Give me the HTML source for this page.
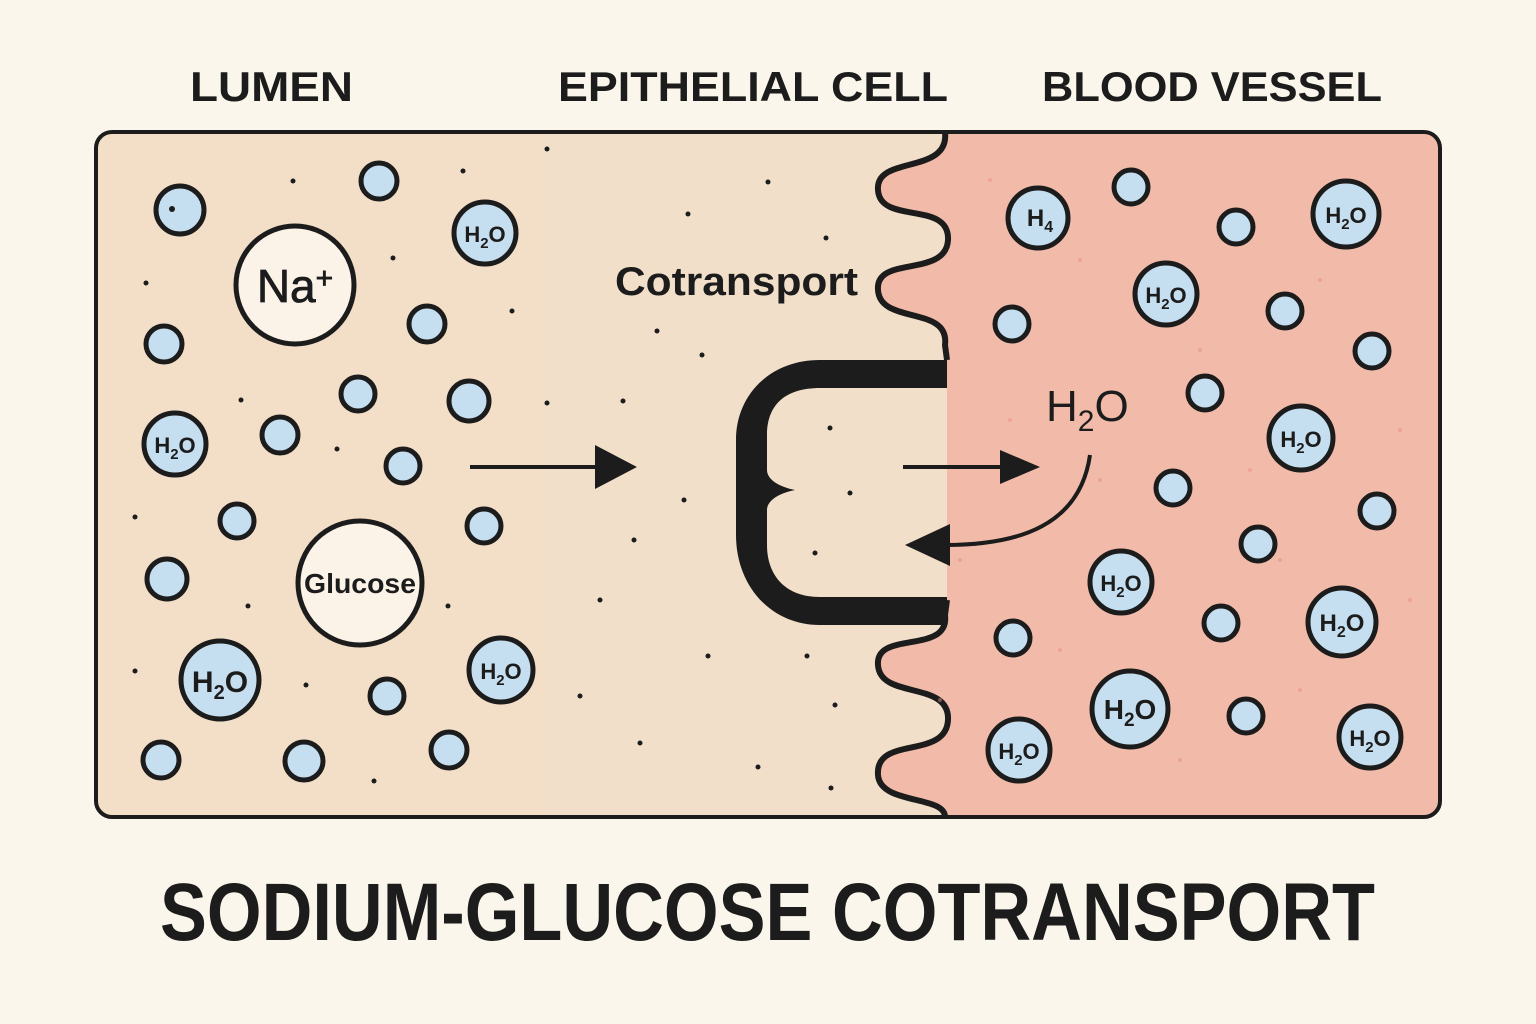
<!DOCTYPE html>
<html><head><meta charset="utf-8"><style>html,body{margin:0;padding:0;background:#fbf6ec}svg{display:block}</style></head><body>
<svg width="1536" height="1024" viewBox="0 0 1536 1024" xmlns="http://www.w3.org/2000/svg" font-family="Liberation Sans, sans-serif">
<rect width="1536" height="1024" fill="#fbf6ec"/>
<g font-weight="bold" fill="#1c1c1c" font-size="42">
<text x="190" y="101" textLength="163" lengthAdjust="spacingAndGlyphs">LUMEN</text>
<text x="558" y="101" textLength="390" lengthAdjust="spacingAndGlyphs">EPITHELIAL CELL</text>
<text x="1042" y="101" textLength="340" lengthAdjust="spacingAndGlyphs">BLOOD VESSEL</text>
<text x="160" y="940" font-size="82" textLength="1215" lengthAdjust="spacingAndGlyphs">SODIUM-GLUCOSE COTRANSPORT</text>
</g>
<defs><clipPath id="bx"><rect x="96" y="132" width="1344" height="685" rx="16"/></clipPath></defs>
<g clip-path="url(#bx)">
<rect x="96" y="132" width="460" height="685" fill="#f3dfc7"/>
<rect x="548" y="132" width="420" height="685" fill="#f2dfca"/>
<path d="M945 132 C950 175 875 155 878 190 C880 225 950 200 948 240 C946 278 875 255 878 290 C880 325 950 305 945 345 L947 360 L947 600 L945 615 C950 655 875 630 878 665 C880 700 950 680 948 720 C946 760 875 735 878 775 C880 805 945 795 945 817 L1445 817 L1445 132 Z" fill="#f2baa9"/>
<path d="M945 132 C950 175 875 155 878 190 C880 225 950 200 948 240 C946 278 875 255 878 290 C880 325 950 305 945 345 L947 360 M947 600 L945 615 C950 655 875 630 878 665 C880 700 950 680 948 720 C946 760 875 735 878 775 C880 805 945 795 945 817" fill="none" stroke="#1c1c1c" stroke-width="6"/>
</g>
<rect x="96" y="132" width="1344" height="685" rx="16" fill="none" stroke="#1c1c1c" stroke-width="4"/>
<g fill="#e8907c" opacity="0.5">
<circle cx="990" cy="180" r="2"/><circle cx="1080" cy="260" r="2"/><circle cx="1200" cy="350" r="2"/><circle cx="1320" cy="280" r="2"/><circle cx="1010" cy="420" r="2"/><circle cx="1250" cy="470" r="2"/><circle cx="1400" cy="430" r="2"/><circle cx="1060" cy="650" r="2"/><circle cx="1180" cy="760" r="2"/><circle cx="1300" cy="690" r="2"/><circle cx="960" cy="560" r="2"/><circle cx="1410" cy="600" r="2"/><circle cx="1100" cy="480" r="2"/><circle cx="1280" cy="560" r="2"/><circle cx="940" cy="700" r="2"/>
</g>
<g fill="#1c1c1c">
<circle cx="293" cy="181" r="2.5"/><circle cx="463" cy="171" r="2.5"/><circle cx="393" cy="258" r="2.5"/><circle cx="146" cy="283" r="2.5"/><circle cx="512" cy="311" r="2.5"/><circle cx="241" cy="400" r="2.5"/><circle cx="547" cy="403" r="2.5"/><circle cx="135" cy="517" r="2.5"/><circle cx="337" cy="449" r="2.5"/><circle cx="248" cy="606" r="2.5"/><circle cx="448" cy="606" r="2.5"/><circle cx="135" cy="671" r="2.5"/><circle cx="306" cy="685" r="2.5"/><circle cx="374" cy="781" r="2.5"/>
<circle cx="547" cy="149" r="2.5"/><circle cx="768" cy="182" r="2.5"/><circle cx="688" cy="214" r="2.5"/><circle cx="826" cy="238" r="2.5"/><circle cx="657" cy="331" r="2.5"/><circle cx="623" cy="401" r="2.5"/><circle cx="702" cy="355" r="2.5"/><circle cx="830" cy="428" r="2.5"/><circle cx="850" cy="493" r="2.5"/><circle cx="684" cy="500" r="2.5"/><circle cx="634" cy="540" r="2.5"/><circle cx="815" cy="553" r="2.5"/><circle cx="708" cy="656" r="2.5"/><circle cx="807" cy="656" r="2.5"/><circle cx="580" cy="696" r="2.5"/><circle cx="835" cy="705" r="2.5"/><circle cx="758" cy="767" r="2.5"/><circle cx="831" cy="788" r="2.5"/><circle cx="640" cy="743" r="2.5"/><circle cx="600" cy="600" r="2.5"/>
</g>
<text x="615" y="295" font-size="40" font-weight="bold" fill="#1c1c1c" textLength="243" lengthAdjust="spacingAndGlyphs">Cotransport</text>
<path d="M947 360 L820 360 C770 360 736 395 736 440 L736 535 C736 585 770 625 820 625 L947 625 L947 597 L820 597 C785 597 767 575 767 545 L767 510 C767 500 780 493 795 490 C780 487 767 480 767 470 L767 435 C767 405 785 388 820 388 L947 388 Z" fill="#1c1c1c"/>
<g stroke="#1c1c1c" stroke-width="4" fill="none">
<line x1="470" y1="467" x2="600" y2="467"/>
<line x1="903" y1="467" x2="1005" y2="467"/>
<path d="M1090 455 C1080 525 1020 545 945 545"/>
</g>
<g fill="#1c1c1c">
<polygon points="595,445 637,467 595,489"/>
<polygon points="1000,450 1040,467 1000,484"/>
<polygon points="950,524 905,545 950,566"/>
</g>
<text x="1046" y="421" font-size="44" fill="#1c1c1c">H<tspan font-size="30" dy="10">2</tspan><tspan dy="-10">O</tspan></text>
<g stroke="#1c1c1c" stroke-width="5" fill="#c6dff0">
<circle cx="180" cy="210" r="24"/><circle cx="379" cy="181" r="18"/><circle cx="485" cy="233" r="31"/><circle cx="164" cy="344" r="18"/><circle cx="427" cy="324" r="18"/><circle cx="358" cy="394" r="17"/><circle cx="469" cy="401" r="20"/><circle cx="175" cy="444" r="31"/><circle cx="280" cy="435" r="18"/><circle cx="403" cy="466" r="17"/><circle cx="237" cy="521" r="17"/><circle cx="484" cy="526" r="17"/><circle cx="167" cy="579" r="20"/><circle cx="220" cy="680" r="39"/><circle cx="501" cy="670" r="32"/><circle cx="387" cy="696" r="17"/><circle cx="161" cy="760" r="18"/><circle cx="304" cy="761" r="19"/><circle cx="449" cy="750" r="18"/>
<circle cx="1038" cy="218" r="30"/><circle cx="1131" cy="187" r="17"/><circle cx="1236" cy="227" r="17"/><circle cx="1346" cy="214" r="33"/><circle cx="1166" cy="294" r="31"/><circle cx="1285" cy="311" r="17"/><circle cx="1012" cy="324" r="17"/><circle cx="1372" cy="351" r="17"/><circle cx="1205" cy="393" r="17"/><circle cx="1301" cy="438" r="32"/><circle cx="1173" cy="488" r="17"/><circle cx="1377" cy="511" r="17"/><circle cx="1258" cy="544" r="17"/><circle cx="1121" cy="582" r="31"/><circle cx="1221" cy="623" r="17"/><circle cx="1342" cy="622" r="34"/><circle cx="1013" cy="638" r="17"/><circle cx="1130" cy="709" r="38"/><circle cx="1246" cy="716" r="17"/><circle cx="1019" cy="750" r="31"/><circle cx="1370" cy="737" r="31"/>
</g>
<g stroke="#1c1c1c" stroke-width="5" fill="#fbf3e8">
<circle cx="295" cy="285" r="59"/><circle cx="360" cy="583" r="62"/>
</g>
<circle cx="172" cy="209" r="3" fill="#1c1c1c"/>
<g fill="#1c1c1c" text-anchor="middle">
<text x="295" y="302" font-size="46" stroke="#1c1c1c" stroke-width="0.8">Na<tspan font-size="30" dy="-14">+</tspan></text>
<text x="360" y="593" font-size="28" font-weight="bold" textLength="112" lengthAdjust="spacingAndGlyphs">Glucose</text>
<text x="1040" y="226" font-size="24" font-weight="bold">H<tspan font-size="16" dy="6">4</tspan></text>
</g>
<g fill="#1c1c1c" font-weight="bold">
<text x="485" y="242" font-size="22" text-anchor="middle">H<tspan font-size="15" dy="6">2</tspan><tspan dy="-6">O</tspan></text>
<text x="175" y="453" font-size="22" text-anchor="middle">H<tspan font-size="15" dy="6">2</tspan><tspan dy="-6">O</tspan></text>
<text x="220" y="692" font-size="30" text-anchor="middle">H<tspan font-size="20" dy="7">2</tspan><tspan dy="-7">O</tspan></text>
<text x="501" y="679" font-size="22" text-anchor="middle">H<tspan font-size="15" dy="6">2</tspan><tspan dy="-6">O</tspan></text>
<text x="1346" y="223" font-size="22" text-anchor="middle">H<tspan font-size="15" dy="6">2</tspan><tspan dy="-6">O</tspan></text>
<text x="1166" y="303" font-size="22" text-anchor="middle">H<tspan font-size="15" dy="6">2</tspan><tspan dy="-6">O</tspan></text>
<text x="1301" y="447" font-size="22" text-anchor="middle">H<tspan font-size="15" dy="6">2</tspan><tspan dy="-6">O</tspan></text>
<text x="1121" y="591" font-size="22" text-anchor="middle">H<tspan font-size="15" dy="6">2</tspan><tspan dy="-6">O</tspan></text>
<text x="1342" y="631" font-size="24" text-anchor="middle">H<tspan font-size="16" dy="6">2</tspan><tspan dy="-6">O</tspan></text>
<text x="1130" y="719" font-size="28" text-anchor="middle">H<tspan font-size="19" dy="7">2</tspan><tspan dy="-7">O</tspan></text>
<text x="1019" y="759" font-size="22" text-anchor="middle">H<tspan font-size="15" dy="6">2</tspan><tspan dy="-6">O</tspan></text>
<text x="1370" y="746" font-size="22" text-anchor="middle">H<tspan font-size="15" dy="6">2</tspan><tspan dy="-6">O</tspan></text>
</g>
</svg>
</body></html>
